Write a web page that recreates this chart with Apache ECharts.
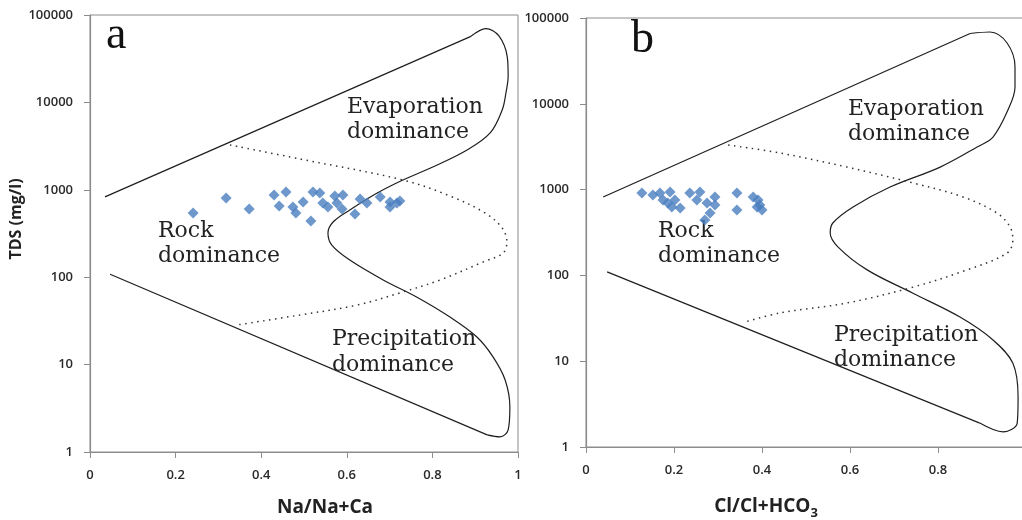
<!DOCTYPE html>
<html>
<head>
<meta charset="utf-8">
<title>Gibbs diagrams</title>
<script src="https://cdn.jsdelivr.net/npm/echarts@6/dist/echarts.min.js"></script>
<style>
  html, body { margin: 0; padding: 0; background: #fff; }
  #myCharts { width: 1022px; height: 520px; }
</style>
</head>
<body>
<div id="myCharts"></div>
<script>
// samples, panel a (Na/Na+Ca vs TDS)
const samplesNa = [0.241, 0.318, 0.372, 0.430, 0.458, 0.442, 0.474, 0.498, 0.481, 0.516, 0.521, 0.537, 0.544,
  0.556, 0.572, 0.591, 0.577, 0.589, 0.619, 0.631, 0.647, 0.678, 0.701, 0.701, 0.724, 0.717];
const samplesTdsA = [543, 806, 602, 872, 944, 653, 635, 725, 543, 440, 944, 918, 706,
  635, 849, 872, 706, 602, 528, 785, 706, 828, 725, 635, 745, 706];

// samples, panel b (Cl/Cl+HCO3 vs TDS)
const samplesCl = [0.127, 0.152, 0.168, 0.175, 0.191, 0.186, 0.202, 0.195, 0.214, 0.236, 0.259, 0.252,
  0.275, 0.293, 0.293, 0.282, 0.270, 0.343, 0.343, 0.380, 0.391, 0.395, 0.389, 0.400];
const samplesTdsB = [913, 865, 913, 756, 938, 698, 756, 627, 611, 913, 938, 756,
  698, 820, 662, 533, 443, 913, 578, 820, 756, 662, 627, 578];

// Gibbs boundaries, [ratio, TDS]
// straight upper / lower limbs and the curved right-hand loop
const upperA = [[0.035, 830], [0.89, 57000]];
const loopA = [[0.89, 57000], [0.925, 70000], [0.955, 58000], [0.975, 33000], [0.977, 20000],
  [0.972, 13000], [0.963, 8180], [0.935, 4470], [0.881, 2850], [0.801, 1820], [0.731, 1295], [0.671, 918],
  [0.607, 587], [0.568, 428], [0.556, 321], [0.565, 233], [0.607, 157], [0.685, 93], [0.764, 59], [0.841, 35],
  [0.904, 20.7], [0.942, 12.2], [0.970, 6.67], [0.981, 3.27], [0.977, 1.79], [0.958, 1.49], [0.928, 1.57]];
const lowerA = [[0.928, 1.57], [0.047, 108]];
const dottedA = [[0.327, 3260], [0.491, 2250], [0.731, 1295], [0.841, 849], [0.923, 543], [0.963, 365],
  [0.974, 253], [0.965, 189], [0.918, 149], [0.818, 93], [0.731, 67.7], [0.624, 48], [0.491, 37], [0.343, 28.4]];

const upperB = [[0.039, 820], [0.873, 66000]];
const loopB = [[0.873, 66000], [0.918, 68700], [0.957, 51100], [0.975, 26800], [0.975, 15700],
  [0.959, 8470], [0.925, 4100], [0.889, 3140], [0.805, 1830], [0.691, 1070], [0.607, 627], [0.561, 408],
  [0.555, 312], [0.573, 214], [0.639, 116], [0.743, 62], [0.850, 32.7], [0.925, 17.7], [0.970, 9.5],
  [0.982, 3.83], [0.980, 1.90], [0.948, 1.50], [0.895, 1.90]];
const lowerB = [[0.895, 1.90], [0.048, 110]];
const dottedB = [[0.323, 3310], [0.441, 2670], [0.593, 1830], [0.743, 1195], [0.857, 820], [0.934, 533],
  [0.964, 366], [0.970, 259], [0.957, 182], [0.866, 116], [0.743, 73], [0.593, 47.7], [0.441, 36.5], [0.361, 28.6]];

const tdsTicks = [1, 10, 100, 1000, 10000, 100000];

const axisGray = '#8c8c8c';
const tickFont = { color: '#2a2a2a', fontFamily: 'Open Sans', fontWeight: 600, fontSize: 13 };
const nameFont = { color: '#222', fontFamily: 'Open Sans', fontWeight: 'bold' };

function zip(xs, ys) {
  return xs.map((x, i) => [x, ys[i]]);
}

function ratioAxis(grid, name, nameGap, nameStyle) {
  return {
    gridIndex: grid,
    type: 'value',
    min: 0,
    max: 1,
    interval: 0.2,
    splitLine: { show: false },
    axisLine: { lineStyle: { color: axisGray, width: 1.2 } },
    axisTick: { length: 6, lineStyle: { color: axisGray } },
    axisLabel: Object.assign({ margin: 17, formatter: v => String(+v.toFixed(1)) }, tickFont),
    name: name,
    nameLocation: 'middle',
    nameGap: nameGap,
    nameTextStyle: nameStyle
  };
}

function tdsAxis(grid, name) {
  return {
    gridIndex: grid,
    type: 'log',
    logBase: 10,
    min: tdsTicks[0],
    max: tdsTicks[tdsTicks.length - 1],
    splitLine: { show: false },
    axisLine: { lineStyle: { color: axisGray, width: 1.2 } },
    axisTick: { length: 6, lineStyle: { color: axisGray } },
    axisLabel: Object.assign({ margin: 17, formatter: v => String(Math.round(v)) }, tickFont),
    name: name,
    nameLocation: 'middle',
    nameGap: 57,
    nameTextStyle: Object.assign({ fontSize: 16, padding: [0, 0, 0, 29] }, nameFont)
  };
}

function curve(grid, data, dotted, smooth) {
  return {
    type: 'line',
    xAxisIndex: grid,
    yAxisIndex: grid,
    data: data,
    smooth: smooth,
    symbol: 'none',
    silent: true,
    lineStyle: dotted
      ? { color: '#333', width: 1.5, type: [1.5, 4.5] }
      : { color: '#1e1e1e', width: 1.2 }
  };
}

function samples(grid, xs, ys) {
  return {
    type: 'scatter',
    xAxisIndex: grid,
    yAxisIndex: grid,
    data: zip(xs, ys),
    symbol: 'diamond',
    symbolSize: 11,
    itemStyle: { color: '#4a7ebf' },
    z: 5
  };
}

function note(text, x, y) {
  return {
    type: 'text',
    x: x,
    y: y,
    style: { text: text, font: '22px "DejaVu Serif"', fill: '#222', verticalAlign: 'middle' }
  };
}

const option = {
  animation: false,
  backgroundColor: '#fff',
  grid: [
    { left: 90, top: 15, width: 428, height: 437, show: true, borderColor: axisGray, borderWidth: 1, outerBoundsMode: 'none' },
    { left: 586, top: 18, width: 440, height: 429, show: true, borderColor: axisGray, borderWidth: 1, outerBoundsMode: 'none' }
  ],
  xAxis: [
    ratioAxis(0, 'Na/Na+Ca', 46, Object.assign({ fontSize: 19, padding: [0, 0, 0, 42] }, nameFont)),
    ratioAxis(1, '{m|Cl/Cl+HCO}{s|3}', 47, {
      padding: [0, 80, 0, 0],
      rich: {
        m: Object.assign({ fontSize: 19, lineHeight: 26 }, nameFont),
        s: Object.assign({ fontSize: 13, lineHeight: 13, verticalAlign: 'bottom' }, nameFont)
      }
    })
  ],
  yAxis: [tdsAxis(0, 'TDS (mg/l)'), tdsAxis(1, '')],
  series: [
    curve(0, upperA, false, false),
    curve(0, loopA, false, 0.35),
    curve(0, lowerA, false, false),
    curve(0, dottedA, true, 0.35),
    samples(0, samplesNa, samplesTdsA),
    curve(1, upperB, false, false),
    curve(1, loopB, false, 0.35),
    curve(1, lowerB, false, false),
    curve(1, dottedB, true, 0.35),
    samples(1, samplesCl, samplesTdsB)
  ],
  graphic: [
    { type: 'text', x: 106, y: 36, style: { text: 'a', font: '46px "Liberation Serif"', fill: '#111', verticalAlign: 'middle' } },
    { type: 'text', x: 631, y: 40, style: { text: 'b', font: '46px "Liberation Serif"', fill: '#111', verticalAlign: 'middle' } },
    note('Evaporation', 347, 107),
    note('dominance', 347, 132),
    note('Rock', 158, 231),
    note('dominance', 158, 256),
    note('Precipitation', 332, 339),
    note('dominance', 332, 365),
    note('Evaporation', 848, 109),
    note('dominance', 848, 134),
    note('Rock', 658, 231),
    note('dominance', 658, 256),
    note('Precipitation', 834, 335),
    note('dominance', 834, 360)
  ]
};

var myChart = echarts.init(document.getElementById('myCharts'));
myChart.setOption(option);
</script>
</body>
</html>
